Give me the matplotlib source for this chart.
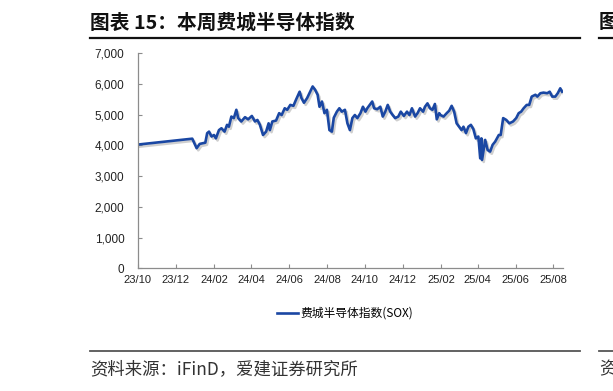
import matplotlib
matplotlib.use("Agg")
import matplotlib.pyplot as plt
import matplotlib.dates as mdates
import matplotlib.patheffects as pe
from matplotlib.lines import Line2D
import pandas as pd

# SOX index
dates = [
    "2023-10-02", "2023-12-28", "2024-01-04", "2024-01-09", "2024-01-18", "2024-01-21",
    "2024-01-24", "2024-01-28", "2024-02-01", "2024-02-04", "2024-02-09", "2024-02-13",
    "2024-02-18", "2024-02-22", "2024-02-25", "2024-02-29", "2024-03-04", "2024-03-08",
    "2024-03-11", "2024-03-16", "2024-03-22", "2024-03-27", "2024-04-02", "2024-04-07",
    "2024-04-11", "2024-04-15", "2024-04-20", "2024-04-25", "2024-04-29", "2024-05-01",
    "2024-05-05", "2024-05-11", "2024-05-16", "2024-05-20", "2024-05-25", "2024-05-29",
    "2024-06-03", "2024-06-08", "2024-06-12", "2024-06-18", "2024-06-21", "2024-06-25",
    "2024-06-30", "2024-07-05", "2024-07-09", "2024-07-13", "2024-07-17", "2024-07-20",
    "2024-07-24", "2024-07-28", "2024-08-01", "2024-08-05", "2024-08-09", "2024-08-12",
    "2024-08-17", "2024-08-21", "2024-08-25", "2024-08-30", "2024-09-03", "2024-09-07",
    "2024-09-11", "2024-09-15", "2024-09-19", "2024-09-24", "2024-09-28", "2024-10-02",
    "2024-10-05", "2024-10-09", "2024-10-13", "2024-10-16", "2024-10-21", "2024-10-26",
    "2024-10-30", "2024-11-03", "2024-11-07", "2024-11-11", "2024-11-15", "2024-11-19",
    "2024-11-24", "2024-11-28", "2024-12-03", "2024-12-08", "2024-12-12", "2024-12-16",
    "2024-12-21", "2024-12-25", "2024-12-29", "2025-01-03", "2025-01-06", "2025-01-10",
    "2025-01-14", "2025-01-18", "2025-01-22", "2025-01-25", "2025-01-29", "2025-01-31",
    "2025-02-05", "2025-02-10", "2025-02-14", "2025-02-18", "2025-02-22", "2025-02-26",
    "2025-03-02", "2025-03-06", "2025-03-09", "2025-03-13", "2025-03-17", "2025-03-21",
    "2025-03-25", "2025-03-29", "2025-04-02", "2025-04-05", "2025-04-07", "2025-04-08",
    "2025-04-13", "2025-04-17", "2025-04-21", "2025-04-25", "2025-04-29", "2025-05-05",
    "2025-05-08", "2025-05-12", "2025-05-17", "2025-05-22", "2025-05-28", "2025-06-02",
    "2025-06-06", "2025-06-10", "2025-06-14", "2025-06-19", "2025-06-23", "2025-06-27",
    "2025-07-03", "2025-07-06", "2025-07-11", "2025-07-16", "2025-07-22", "2025-07-26",
    "2025-07-30", "2025-08-04", "2025-08-08", "2025-08-12", "2025-08-15",
]
sox = [
    4030, 4220, 3910, 4050, 4090, 4400,
    4450, 4290, 4340, 4230, 4500, 4560,
    4450, 4670, 4610, 4940, 4890, 5160,
    4890, 4780, 4920, 4850, 4960, 4780,
    4830, 4670, 4340, 4450, 4720, 4500,
    4780, 4810, 5050, 4990, 5210, 5160,
    5320, 5290, 5480, 5750, 5540, 5390,
    5540, 5750, 5920, 5810, 5650, 5260,
    5430, 5050, 5160, 4500, 4450, 4900,
    5100, 5210, 5100, 5160, 4720, 4500,
    4890, 4990, 4890, 5050, 5260, 5100,
    5210, 5320, 5430, 5210, 5180, 5260,
    4940, 5100, 5320, 5100, 4990, 4890,
    4940, 5100, 4960, 5100, 4990, 5210,
    4940, 5050, 5210, 5100, 5260, 5370,
    5210, 5160, 5350, 4850, 5050, 4990,
    4940, 5050, 5130, 5290, 5100, 4720,
    4610, 4500, 4610, 4400, 4610, 4670,
    4530, 4230, 4290, 3580, 4230, 3530,
    4180, 3850, 3800, 4020, 4120, 4340,
    4340, 4890, 4830, 4720, 4780, 4890,
    5050, 5100, 5210, 5320, 5320, 5590,
    5650, 5590, 5700, 5720, 5700, 5750,
    5590, 5590, 5700, 5860, 5750,
]
series_name = "费城半导体指数(SOX)"
title = "图表 15：本周费城半导体指数"
source = "资料来源：iFinD，爱建证券研究所"

cjk = ["Noto Sans CJK SC", "DejaVu Sans"]
num_font = ["Liberation Sans", "DejaVu Sans"]
line_color = "#1a47a3"

fig = plt.figure(figsize=(6.13, 3.91), dpi=100)
ax = fig.add_axes([0.2246, 0.3138, 0.6934, 0.5499])

x = pd.to_datetime(dates)
ax.plot(x, sox, color=line_color, lw=1.9, solid_joinstyle="round",
        path_effects=[pe.SimpleLineShadow(offset=(1.2, -1.5), shadow_color="#888888", alpha=0.4),
                      pe.Normal()])

ax.set_xlim(pd.Timestamp("2023-10-01"), pd.Timestamp("2025-08-16"))
ax.set_ylim(0, 7000)
ax.set_yticks(range(0, 7001, 1000))
ax.yaxis.set_major_formatter(matplotlib.ticker.FuncFormatter(lambda v, p: "{:,.0f}".format(v)))
ax.xaxis.set_major_locator(mdates.MonthLocator(bymonth=[2, 4, 6, 8, 10, 12]))
ax.xaxis.set_major_formatter(mdates.DateFormatter("%y/%m"))

for s in ["top", "right"]:
    ax.spines[s].set_visible(False)
for s in ["left", "bottom"]:
    ax.spines[s].set_color("#8c8c8c")
    ax.spines[s].set_linewidth(0.9)
ax.tick_params(axis="both", direction="in", length=3, width=0.8, color="#8c8c8c",
               labelcolor="#222222")
ax.tick_params(axis="y", pad=9.5)
ax.tick_params(axis="x", pad=4.5)
for lab in ax.get_yticklabels():
    lab.set_fontfamily(num_font)
    lab.set_fontsize(8.5)
for lab in ax.get_xticklabels():
    lab.set_fontfamily(num_font)
    lab.set_fontsize(8)

# legend
handle = Line2D([], [], color=line_color, lw=1.9)
fig.legend([handle], [series_name], loc="center", bbox_to_anchor=(0.563, 0.199),
           frameon=False, handlelength=1.8, handletextpad=0.15,
           prop={"family": cjk, "size": 8.5})

# title and source block
fig.text(90 / 613, 1 - 23 / 391, title, family=cjk, fontsize=14.2, fontweight="bold",
         va="center", ha="left", color="#111111")
fig.add_artist(Line2D([90 / 613, 580 / 613], [1 - 38 / 391] * 2, color="#111111", lw=1.6))
fig.add_artist(Line2D([90 / 613, 580 / 613], [1 - 351 / 391] * 2, color="#555555", lw=1.3))
fig.text(90 / 613, 1 - 369 / 391, source, family=cjk, fontsize=12.5,
         va="center", ha="left", color="#333333")

# edge of neighbouring chart
fig.text(599 / 613, 1 - 23 / 391, "图", family=cjk, fontsize=14.2, fontweight="bold",
         va="center", ha="left", color="#111111")
fig.add_artist(Line2D([599 / 613, 1.0], [1 - 38 / 391] * 2, color="#111111", lw=1.6))
fig.add_artist(Line2D([599 / 613, 1.0], [1 - 351 / 391] * 2, color="#555555", lw=1.3))
fig.text(599 / 613, 1 - 369 / 391, "资", family=cjk, fontsize=12.5,
         va="center", ha="left", color="#333333")

fig.savefig("out.png", dpi=100)
